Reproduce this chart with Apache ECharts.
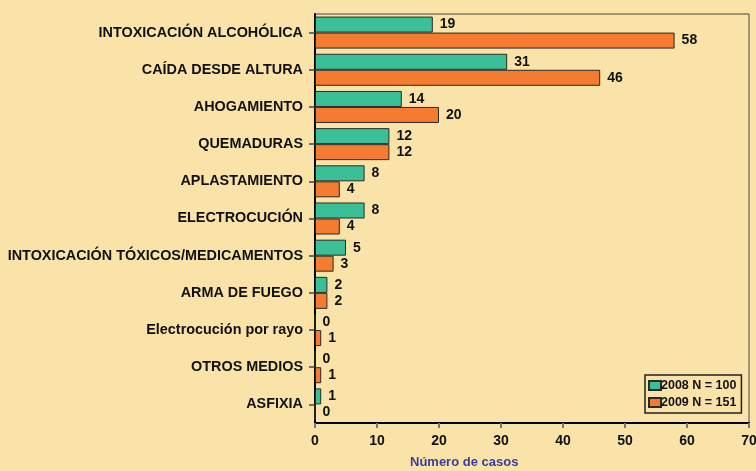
<!DOCTYPE html>
<html>
<head>
<meta charset="utf-8">
<script src="https://cdn.jsdelivr.net/npm/echarts@6/dist/echarts.min.js"></script>
<style>html,body{margin:0;padding:0;background:#f9e3a8;}#c{width:756px;height:471px;}</style>
</head>
<body>
<div id="c"></div>
<script>
const categories = ['INTOXICACIÓN ALCOHÓLICA','CAÍDA DESDE ALTURA','AHOGAMIENTO','QUEMADURAS','APLASTAMIENTO','ELECTROCUCIÓN','INTOXICACIÓN TÓXICOS/MEDICAMENTOS','ARMA DE FUEGO','Electrocución por rayo','OTROS MEDIOS','ASFIXIA'];
const values2008 = [19,31,14,12,8,8,5,2,0,0,1];
const values2009 = [58,46,20,12,4,4,3,2,1,1,0];
const xTicks = [0,10,20,30,40,50,60,70];

const chart = echarts.init(document.getElementById('c'));
const font = 'Liberation Sans, Arial, sans-serif';
chart.setOption({
  backgroundColor: '#f9e3a8',
  textStyle: {fontFamily: font},
  grid: {left: 315, right: 7, top: 14, bottom: 48, outerBoundsMode: 'none', containLabel: false, show: true, borderColor: '#444', borderWidth: 1, backgroundColor: 'transparent'},
  legend: {
    orient: 'vertical', left: 645, top: 375,
    data: ['2008 N = 100','2009 N = 151'],
    itemWidth: 12, itemHeight: 9, itemGap: 4,
    padding: [4, 5, 4, 3],
    borderColor: '#222', borderWidth: 1.5,
    textStyle: {fontWeight: 'bold', fontSize: 12.5, color: '#111', fontFamily: font, padding: [0,0,0,-5]},
    icon: 'rect'
  },
  graphic: [{type: 'text', left: 410, top: 456, style: {text: 'Número de casos', font: 'bold 13px Liberation Sans, Arial, sans-serif', fill: '#3a3d99'}}],
  xAxis: {
    type: 'value', min: xTicks[0], max: xTicks[xTicks.length-1], interval: 10,
    axisLine: {show: true, lineStyle: {color: '#000', width: 2}},
    axisTick: {show: true, length: 5, lineStyle: {color: '#777', width: 2}},
    axisLabel: {margin: 11, fontWeight: 'bold', fontSize: 14, color: '#111', fontFamily: font},
    splitLine: {show: false}
  },
  yAxis: {
    type: 'category', data: categories, inverse: true,
    axisLine: {show: true, lineStyle: {color: '#000', width: 2}},
    axisTick: {show: true, alignWithLabel: true, length: 6, lineStyle: {color: '#444', width: 1.5}},
    axisLabel: {margin: 12, fontWeight: 'bold', fontSize: 14.4, color: '#111', fontFamily: font}
  },
  series: [
    {name: '2008 N = 100', type: 'bar', data: values2008, barWidth: 16, barGap: '0%',
     itemStyle: {color: '#3bbf96', borderColor: '#2a2a2a', borderWidth: 1},
     label: {show: true, position: 'right', distance: 7, fontWeight: 'bold', fontSize: 14, color: '#111', fontFamily: font}},
    {name: '2009 N = 151', type: 'bar', data: values2009, barWidth: 16, barGap: '0%',
     itemStyle: {color: '#f47b2f', borderColor: '#2a2a2a', borderWidth: 1},
     label: {show: true, position: 'right', distance: 7, fontWeight: 'bold', fontSize: 14, color: '#111', fontFamily: font}}
  ]
});
</script>
</body>
</html>
